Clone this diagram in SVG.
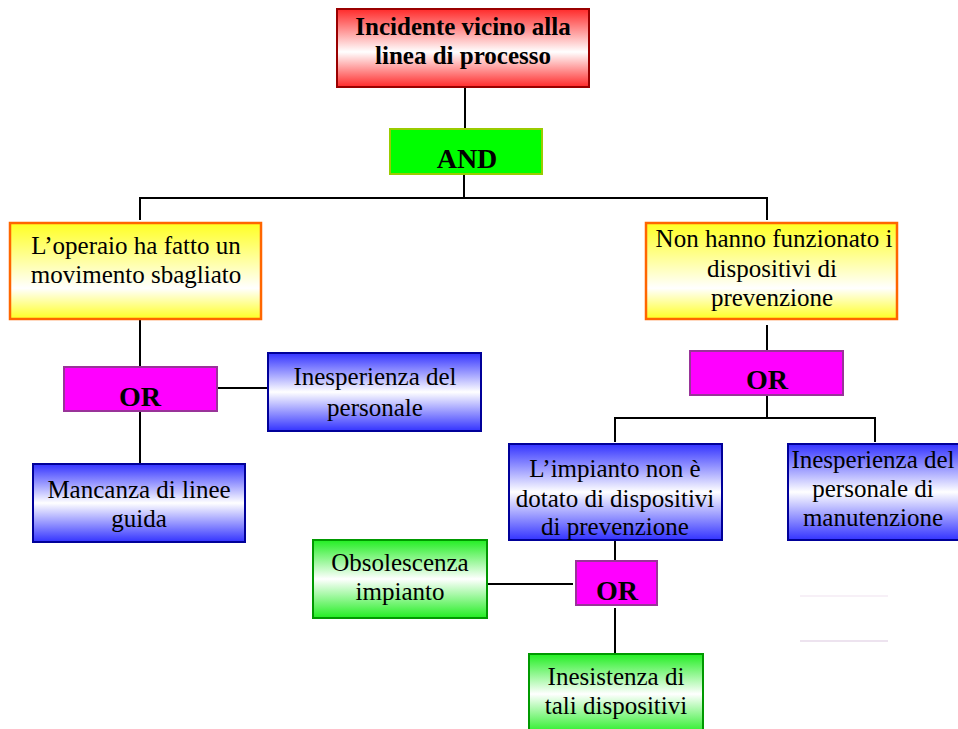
<svg xmlns="http://www.w3.org/2000/svg" width="958" height="729" viewBox="0 0 958 729">
<defs>
<linearGradient id="gRed" x1="0" y1="0" x2="0" y2="1">
<stop offset="0" stop-color="#ff2a2a"/><stop offset="0.55" stop-color="#ffffff"/><stop offset="1" stop-color="#ff2a2a"/>
</linearGradient>
<linearGradient id="gYel" x1="0" y1="0" x2="0" y2="1">
<stop offset="0" stop-color="#ffff22"/><stop offset="0.68" stop-color="#ffffff"/><stop offset="1" stop-color="#ffff22"/>
</linearGradient>
<linearGradient id="gBlue" x1="0" y1="0" x2="0" y2="1">
<stop offset="0" stop-color="#3333ff"/><stop offset="0.5" stop-color="#ffffff"/><stop offset="1" stop-color="#3333ff"/>
</linearGradient>
<linearGradient id="gGreen" x1="0" y1="0" x2="0" y2="1">
<stop offset="0" stop-color="#22ee22"/><stop offset="0.5" stop-color="#ffffff"/><stop offset="1" stop-color="#22ee22"/>
</linearGradient>
</defs>
<style>
text{font-family:'Liberation Serif','DejaVu Serif',serif;fill:#000;text-anchor:middle}
.t{font-size:25px}
.b{font-size:25px;font-weight:bold}
.g{font-size:28px;font-weight:bold}
.red{fill:url(#gRed);stroke:#990000;stroke-width:2}
.yel{fill:url(#gYel);stroke:#ff6600;stroke-width:2.5}
.blue{fill:url(#gBlue);stroke:#000099;stroke-width:2}
.green{fill:url(#gGreen);stroke:#009900;stroke-width:2}
.and{fill:#00ff00;stroke:#99cc00;stroke-width:2}
.or{fill:#ff00ff;stroke:#993399;stroke-width:2}
.c{fill:none;stroke:#000;stroke-width:2}
</style>
<rect width="958" height="729" fill="#fff"/>
<g id="connectors">
<path class="c" d="M465 87V129"/>
<path class="c" d="M464 174V198M140 220V198H767V220"/>
<path class="c" d="M140 319V367M140 411V464M217 388H268"/>
<path class="c" d="M767 325V351M767 395V418M615 442V418H875V442"/>
<path class="c" d="M615 540V561M615 608V654M487 584H573"/>
</g>
<g id="top">
<rect class="red" x="337" y="9" width="252" height="78"/>
<text class="b" x="463" y="35">Incidente vicino alla</text>
<text class="b" x="463" y="64">linea di processo</text>
</g>
<g id="and">
<rect class="and" x="390" y="129" width="152" height="45"/>
<text class="g" x="467" y="168">AND</text>
</g>
<g id="operaio">
<rect class="yel" x="10" y="223" width="251" height="96"/>
<text class="t" x="136" y="254">L’operaio ha fatto un</text>
<text class="t" x="136" y="283">movimento sbagliato</text>
</g>
<g id="nonfunz">
<rect class="yel" x="646" y="223" width="251" height="96"/>
<text class="t" x="774" y="247">Non hanno funzionato i</text>
<text class="t" x="772" y="277">dispositivi di</text>
<text class="t" x="772" y="306">prevenzione</text>
</g>
<g id="or1">
<rect class="or" x="64" y="367" width="153" height="44"/>
<text class="g" x="140" y="406">OR</text>
</g>
<g id="inesp1">
<rect class="blue" x="268" y="353" width="213" height="78"/>
<text class="t" x="375" y="385">Inesperienza del</text>
<text class="t" x="375" y="416">personale</text>
</g>
<g id="mancanza">
<rect class="blue" x="33" y="464" width="212" height="78"/>
<text class="t" x="139" y="498">Mancanza di linee</text>
<text class="t" x="139" y="527">guida</text>
</g>
<g id="or2">
<rect class="or" x="690" y="351" width="153" height="44"/>
<text class="g" x="767" y="389">OR</text>
</g>
<g id="impianto">
<rect class="blue" x="509" y="444" width="213" height="96"/>
<text class="t" x="615" y="477">L’impianto non è</text>
<text class="t" x="615" y="507">dotato di dispositivi</text>
<text class="t" x="615" y="535">di prevenzione</text>
</g>
<g id="inesp2">
<rect class="blue" x="788" y="444" width="172" height="96"/>
<text class="t" x="873" y="468">Inesperienza del</text>
<text class="t" x="873" y="497">personale di</text>
<text class="t" x="873" y="526">manutenzione</text>
</g>
<g id="or3">
<rect class="or" x="576" y="561" width="81" height="44"/>
<text class="g" x="617" y="600">OR</text>
</g>
<g id="obsolescenza">
<rect class="green" x="313" y="540" width="174" height="78"/>
<text class="t" x="400" y="571">Obsolescenza</text>
<text class="t" x="400" y="600">impianto</text>
</g>
<g id="inesistenza">
<rect class="green" x="529" y="654" width="174" height="80"/>
<text class="t" x="616" y="685">Inesistenza di</text>
<text class="t" x="616" y="714">tali dispositivi</text>
</g>
<path d="M800 596H888" stroke="#efe2ef" stroke-width="1.2"/>
<path d="M800 641H888" stroke="#dcc8e0" stroke-width="1.2"/>
</svg>
